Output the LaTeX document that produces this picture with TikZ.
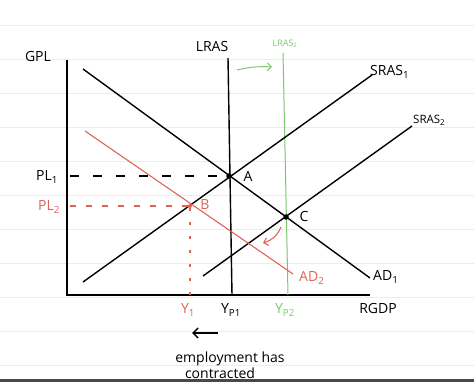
\documentclass[tikz,border=0pt]{standalone}
\usepackage{fontspec}
\setmainfont{Open Sans}
\usetikzlibrary{arrows.meta}
\definecolor{penred}{RGB}{222,100,86}
\definecolor{pengreen}{RGB}{125,198,112}
\definecolor{ruled}{RGB}{228,238,247}
\definecolor{barfill}{RGB}{72,72,72}
\begin{document}
\begin{tikzpicture}[x=1pt,y=-1pt,
    lab/.style={font=\fontsize{14}{14}\selectfont,inner sep=0pt},
    tiny/.style={font=\fontsize{9}{9}\selectfont,inner sep=0pt},
    curve/.style={line width=1.4pt},
    redline/.style={penred,line width=1.1pt},
    dot/.style={circle,fill,inner sep=0pt,minimum size=5.5pt}]
\useasboundingbox (0,0) rectangle (474,382);
% paper
\foreach \y in {25,59,...,365} \draw[ruled,line width=.8pt] (0,\y)--(474,\y);
\fill[barfill] (0,379) rectangle (474,382);
% axes
\coordinate(O) at (67,295);
\coordinate(Ytop) at (67,60);
\coordinate(Xend) at (370,295);
\draw[curve] (Ytop)--(O)--(Xend);
\node[lab](gpl) at (38,57){GPL};
\node[lab](rgdp) at (378,308){RGDP};
% long run
\coordinate(L1a) at (228,58);
\coordinate(L1b) at (232,295);
\coordinate(L2a) at (283,53);
\coordinate(L2b) at (288,295);
\draw[curve] (L1a)--(L1b);
\draw[pengreen,line width=1pt] (L2a)--(L2b);
\node[lab](lras) at (212,47){LRAS};
\node[tiny,pengreen](lras2) at (285,44){LRAS\textsubscript{2}};
\coordinate(g1) at (237,70);
\coordinate(g2) at (272,67);
\draw[pengreen,line width=1pt,-{Straight Barb[length=4pt]}] (g1) to[bend left=8] (g2);
% short run and demand
\coordinate(AD1a) at (83,69);
\coordinate(AD1b) at (370,278);
\coordinate(S1a) at (83,282);
\coordinate(S1b) at (372,75);
\coordinate(S2a) at (203,276);
\coordinate(S2b) at (412,126);
\coordinate(AD2a) at (85,131);
\coordinate(AD2b) at (293,274);
\draw[curve] (AD1a)--(AD1b);
\draw[curve] (S1a)--(S1b);
\draw[curve] (S2a)--(S2b);
\draw[redline] (AD2a)--(AD2b);
\node[lab,anchor=west](ad1) at (373,277){AD\textsubscript{1}};
\node[lab,anchor=west](sras1) at (370,72){SRAS\textsubscript{1}};
\node[font=\fontsize{11.5}{11.5}\selectfont,inner sep=0pt,anchor=west](sras2) at (413,120){SRAS\textsubscript{2}};
\node[lab,penred,anchor=west](ad2) at (299,278){AD\textsubscript{2}};
% equilibria
\node[dot](A) at (229,176){};
\node[dot](C) at (286,217){};
\node[dot,penred,minimum size=4pt](B) at (190,206){};
\node[lab](la) at (248,176){A};
\node[lab](lc) at (304,217){C};
\node[lab,penred](lb) at (205,205){B};
% price levels
\node[lab](pl1) at (47,177){PL\textsubscript{1}};
\node[lab,penred](pl2) at (49,207){PL\textsubscript{2}};
\coordinate(p1) at (70,176);
\coordinate(p2) at (70,206);
\draw[line width=1.3pt,dash pattern=on 9pt off 14pt] (p1)--(A);
\draw[redline,dash pattern=on 6pt off 10pt] (p2)--(B);
\coordinate(y1) at (190,300);
\draw[redline,dash pattern=on 3pt off 11pt] (B)--(y1);
% output labels
\node[lab,penred](ly1) at (188,310){Y\textsubscript{1}};
\node[lab](lyp1) at (231,310){Y\textsubscript{P1}};
\node[lab,pengreen](lyp2) at (285,310){Y\textsubscript{P2}};
% shifts
\coordinate(r1) at (281,227);
\coordinate(r2) at (263,243);
\draw[redline,-{Straight Barb[length=4pt]}] (r1) to[bend left=25] (r2);
\coordinate(k1) at (218,333);
\coordinate(k2) at (192,333);
\draw[line width=1.5pt,-{Straight Barb[length=5pt]}] (k1)--(k2);
\node[lab](emp) at (230,359){employment has};
\node[lab](con) at (220,373){contracted};
\end{tikzpicture}
\end{document}
